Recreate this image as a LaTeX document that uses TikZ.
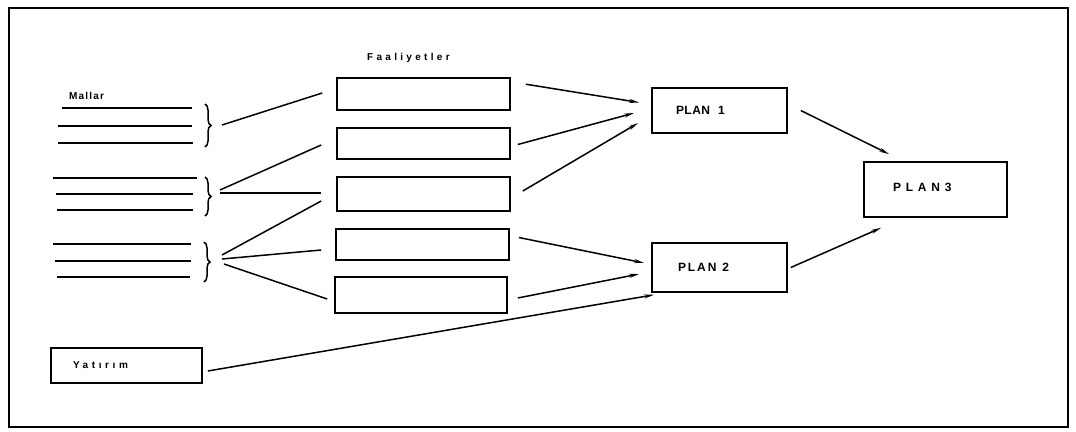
\documentclass[tikz,border=0pt]{standalone}
\usepackage{fontspec}
\setmainfont{Liberation Sans}
\usetikzlibrary{arrows.meta,decorations.pathreplacing,calc}
\newcommand\lspc[1]{\addfontfeature{LetterSpace=#1}}
\begin{document}
\begin{tikzpicture}[x=1pt,y=-1pt,
  box/.style={draw, line width=1.6pt, rectangle, inner sep=0pt},
  fbox/.style={box, minimum width=173pt},
  tbox/.style={box, align=left, font=\fontsize{12}{13}\selectfont\bfseries},
  lbl/.style={inner sep=0pt, anchor=west, font=\fontsize{10}{11}\selectfont\bfseries},
  arr/.style={-{Stealth[length=10pt,width=4pt]}, line width=1.5pt},
  link/.style={line width=1.5pt},
  listline/.style={line width=1.7pt},
  brc/.style={decorate, decoration={brace, amplitude=6pt}, line width=1.5pt}
]
\useasboundingbox (0,0) rectangle (1076,431);
\draw[line width=1.7pt] (9,8) rectangle (1068,427);

% labels
\node[lbl] (mallar) at (69,96) {\lspc{12}Mallar};
\node[lbl] (faal) at (367,58) {\lspc{33}Faaliyetler};

% list lines
\draw[listline] (62,108) -- (192,108);
\draw[listline] (58,126) -- (192,126);
\draw[listline] (58,143) -- (193,143);
\draw[listline] (53,178) -- (197,178);
\draw[listline] (56,194) -- (193,194);
\draw[listline] (57,210) -- (193,210);
\draw[listline] (53,244) -- (191,244);
\draw[listline] (55,261) -- (191,261);
\draw[listline] (57,277) -- (190,277);

% braces
\draw[brc] (205,104) -- (205,147);
\draw[brc] (205,177) -- (205,216);
\draw[brc] (204,242) -- (204,282);
\coordinate (b1) at (222,125);
\coordinate (b2a) at (220,190);
\coordinate (b2b) at (220,193);
\coordinate (b3a) at (222,255);
\coordinate (b3b) at (222,259);
\coordinate (b3c) at (224,264);

% activity boxes
\node[fbox, minimum height=32pt] (F1) at (423.5,94) {};
\node[fbox, minimum height=31pt] (F2) at (423.5,143.5) {};
\node[fbox, minimum height=34pt] (F3) at (423.5,194) {};
\node[fbox, minimum height=31pt] (F4) at (422.5,244.5) {};
\node[fbox, minimum height=36pt, minimum width=172pt] (F5) at (421,295) {};

% plan boxes
\node[tbox, inner xsep=24pt, text width=87pt, minimum height=45pt] (P1) at (719.5,110.5) {\lspc{4}PLAN\ \ 1};
\node[tbox, inner xsep=26pt, text width=83pt, minimum height=49pt] (P2) at (719.5,267.5) {\lspc{16}PLAN\hspace{6pt}2};
\node[tbox, inner xsep=29pt, text width=85pt, minimum height=55pt] (P3) at (935.5,189.5) {\raisebox{4pt}{\lspc{40}PLAN3}};
\node[tbox, inner xsep=22pt, text width=107pt, minimum height=35pt, font=\fontsize{10}{11}\selectfont\bfseries] (Y) at (126.5,365.5) {\lspc{36}Yatırım};

% brace links
\draw[link] (b1) -- ($(F1.west)+(-14,-1)$);
\draw[link] (b2a) -- ($(F2.west)+(-15,1.5)$);
\draw[link] (b2b) -- ($(F3.west)+(-15,-1)$);
\draw[link] (b3a) -- ($(F3.west)+(-15,7)$);
\draw[link] (b3b) -- ($(F4.west)+(-14,5.5)$);
\draw[link] (b3c) -- ($(F5.west)+(-7,4)$);

% arrows
\draw[arr] ($(F1.north east)+(15,7)$) -- ($(P1.west)+(-12,-8)$);
\draw[arr] ($(F2.east)+(7,1)$) -- ($(P1.west)+(-17,2.5)$);
\draw[arr] ($(F3.east)+(12,-3)$) -- ($(P1.west)+(-13,12.5)$);
\draw[arr] ($(F4.east)+(9,-7)$) -- ($(P2.west)+(-7,-4.5)$);
\draw[arr] ($(F5.east)+(10,3)$) -- ($(P2.west)+(-12,6.5)$);
\draw[arr] ($(Y.east)+(5,5.5)$) -- ($(P2.south west)+(3,2)$);
\draw[arr] ($(P1.east)+(13,0)$) -- ($(P3.north west)+(26,-7)$);
\draw[arr] ($(P2.east)+(3,0)$) -- ($(P3.south west)+(18,10)$);
\end{tikzpicture}
\end{document}
